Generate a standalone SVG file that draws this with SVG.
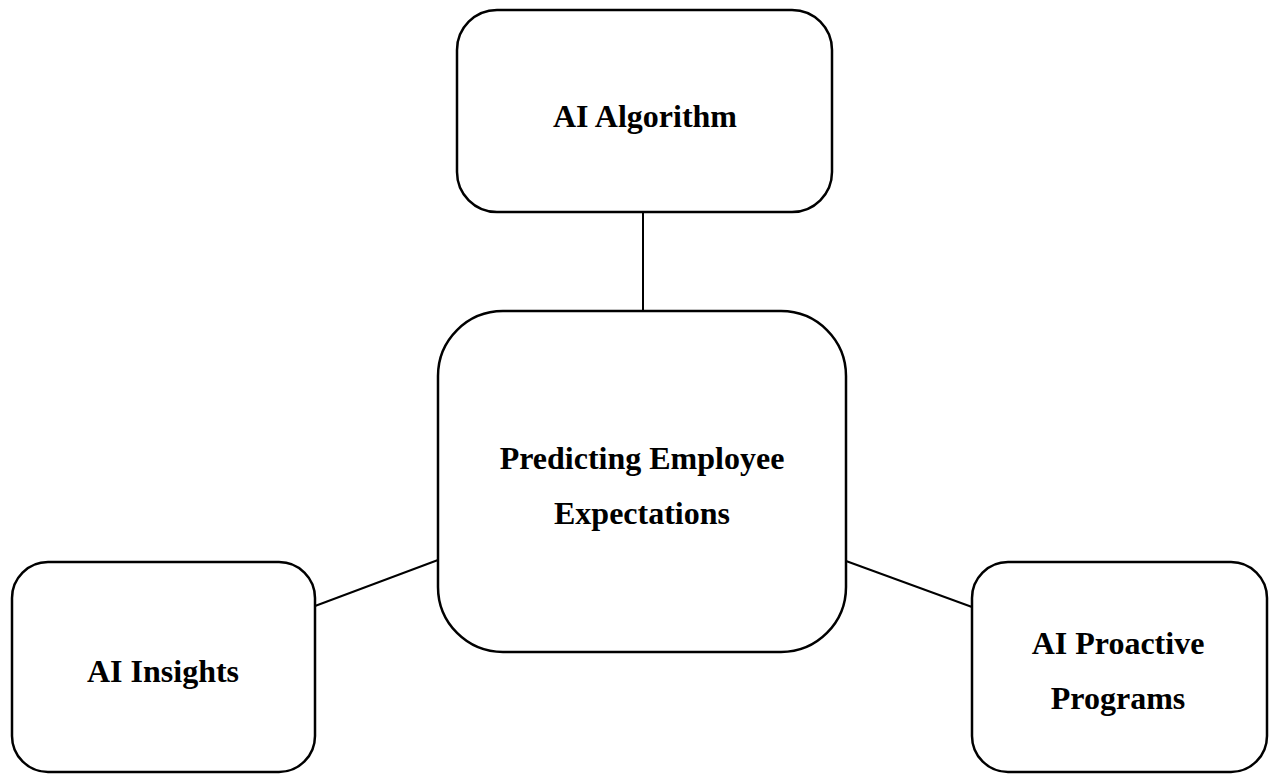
<svg xmlns="http://www.w3.org/2000/svg" width="1270" height="774" viewBox="0 0 1270 774">
  <style>
    .box { fill: #ffffff; stroke: #000000; stroke-width: 2.5; }
    .link { stroke: #000000; stroke-width: 2; fill: none; }
    .label { font-family: "Liberation Serif", "Times New Roman", serif; font-weight: bold; font-size: 32px; fill: #000000; text-anchor: middle; }
  </style>
  <rect width="1270" height="774" fill="#ffffff"/>
  <g id="connectors">
    <line class="link" x1="643" y1="212" x2="643" y2="311"/>
    <line class="link" x1="315" y1="606" x2="438" y2="560"/>
    <line class="link" x1="846" y1="561" x2="972" y2="607"/>
  </g>
  <g id="node-algorithm">
    <rect class="box" x="457" y="10" width="375" height="202" rx="40" ry="40"/>
    <text class="label" x="645" y="127">AI Algorithm</text>
  </g>
  <g id="node-predicting">
    <rect class="box" x="438" y="311" width="408" height="341" rx="65" ry="65"/>
    <text class="label" x="642" y="469">Predicting Employee</text>
    <text class="label" x="642" y="524">Expectations</text>
  </g>
  <g id="node-insights">
    <rect class="box" x="12" y="562" width="303" height="210" rx="36" ry="36"/>
    <text class="label" x="163" y="682">AI Insights</text>
  </g>
  <g id="node-proactive">
    <rect class="box" x="972" y="562" width="295" height="210" rx="36" ry="36"/>
    <text class="label" x="1118" y="654">AI Proactive</text>
    <text class="label" x="1118" y="709">Programs</text>
  </g>
</svg>
